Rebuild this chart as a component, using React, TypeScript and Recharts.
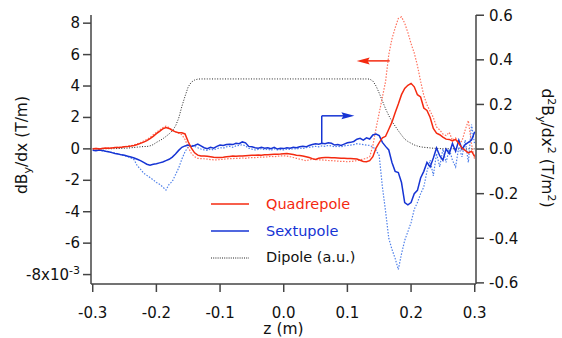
import { LineChart, Line, XAxis, YAxis, Legend, ReferenceLine, ReferenceDot } from "recharts";

// samples every 0.005 m from z = -0.300 to 0.300 (121 points)
const quad = [
  0.0, 0.02, 0.0, 0.03, 0.05, 0.04, 0.06, 0.08, 0.09, 0.1,
  0.13, 0.15, 0.18, 0.22, 0.28, 0.35, 0.43, 0.52, 0.65, 0.8,
  0.97, 1.12, 1.27, 1.36, 1.3, 1.18, 1.08, 1.03, 1.02, 0.95,
  0.45, 0.05, -0.25, -0.4, -0.45, -0.46, -0.47, -0.5, -0.53, -0.55,
  -0.55, -0.53, -0.5, -0.48, -0.46, -0.47, -0.45, -0.46, -0.44, -0.42,
  -0.4, -0.41, -0.39, -0.4, -0.38, -0.37, -0.36, -0.35, -0.34, -0.33,
  -0.31, -0.3, -0.32, -0.36, -0.4, -0.42, -0.46, -0.5, -0.55, -0.62,
  -0.68, -0.6, -0.56, -0.55, -0.55, -0.56, -0.57, -0.58, -0.6, -0.6,
  -0.61, -0.62, -0.63, -0.65, -0.72, -0.8, -0.82, -0.75, -0.5, 0.05,
  0.4, 0.7, 0.8, 1.25, 1.7, 2.3, 2.85, 3.45, 3.85, 4.05,
  4.17, 3.95, 3.45, 3.3, 2.6, 2.45, 2.0, 1.3, 1.0, 0.9,
  0.75, 0.62, 0.6, 0.5, 0.6, 0.35, 0.05, -0.1, -0.25, -0.15, -0.5,
];

const quadSim = [
  0.0, 0.03, 0.0, 0.04, 0.02, 0.06, 0.05, 0.09, 0.1, 0.12,
  0.15, 0.17, 0.2, 0.25, 0.32, 0.4, 0.5, 0.6, 0.72, 0.9,
  1.05, 1.2, 1.35, 1.45, 1.35, 1.2, 1.1, 1.0, 0.9, 0.6,
  0.1, -0.3, -0.5, -0.6, -0.62, -0.63, -0.65, -0.68, -0.7, -0.7,
  -0.68, -0.66, -0.64, -0.62, -0.62, -0.6, -0.6, -0.58, -0.6, -0.57,
  -0.55, -0.56, -0.54, -0.52, -0.53, -0.5, -0.48, -0.5, -0.47, -0.45,
  -0.44, -0.46, -0.5, -0.55, -0.6, -0.65, -0.7, -0.75, -0.7, -0.66,
  -0.68, -0.7, -0.7, -0.72, -0.74, -0.75, -0.76, -0.78, -0.8, -0.8,
  -0.82, -0.8, -0.78, -0.75, -0.7, -0.65, -0.6, -0.5, 0.2, 1.3,
  2.3, 3.3, 4.3, 6.0, 7.0, 7.7, 8.3, 8.4, 8.0, 7.4,
  6.7, 6.1, 5.3, 4.3, 3.4, 2.8, 2.4, 2.0, 1.4, 1.2,
  0.95, 0.85, 1.05, 0.55, 0.7, 0.35, 0.5, 1.2, 1.8, 0.3, -0.7,
];

const sext = [
  -0.005, -0.008, -0.004, -0.006, -0.01, -0.012, -0.016, -0.02, -0.022, -0.026,
  -0.028, -0.032, -0.036, -0.04, -0.046, -0.052, -0.06, -0.068, -0.072, -0.068,
  -0.066, -0.062, -0.058, -0.052, -0.046, -0.036, -0.022, -0.006, 0.008, 0.014,
  0.018, 0.012, 0.016, 0.022, 0.014, 0.006, 0.002, 0.008, 0.004, 0.012,
  0.018, 0.016, 0.02, 0.022, 0.02, 0.026, 0.024, 0.032, 0.028, 0.012,
  0.01, 0.006, 0.004, 0.008, 0.004, 0.006, 0.002, 0.008, 0.0, 0.004,
  0.002, 0.006, 0.004, 0.008, 0.006, 0.01, 0.012, 0.01, 0.016, 0.02,
  0.024, 0.022, 0.026, 0.024, 0.028, 0.026, 0.018, 0.02, 0.016, 0.022,
  0.028, 0.03, 0.034, 0.044, 0.048, 0.04, 0.05, 0.045, 0.063, 0.067,
  0.06, 0.03, 0.012, -0.004, -0.06, -0.1, -0.105, -0.15, -0.24, -0.25,
  -0.24, -0.2, -0.185, -0.13, -0.1, -0.06, -0.08, -0.04, 0.005, -0.03,
  -0.05, 0.0, -0.02, 0.025, -0.01, 0.04, 0.0, 0.02, 0.03, 0.04, 0.078,
];

const sextSim = [
  -0.004, -0.006, -0.004, -0.008, -0.01, -0.012, -0.015, -0.018, -0.022, -0.026,
  -0.03, -0.034, -0.04, -0.048, -0.075, -0.09, -0.108, -0.118, -0.128, -0.138,
  -0.15, -0.158, -0.17, -0.184, -0.158, -0.145, -0.115, -0.085, -0.045, -0.012,
  0.01, 0.018, 0.012, 0.006, 0.0, -0.004, -0.006, 0.0, -0.004, 0.002,
  0.006, 0.004, 0.01, 0.012, 0.008, 0.014, 0.016, 0.02, 0.014, 0.004,
  0.0, -0.004, -0.002, 0.002, -0.004, 0.0, -0.006, 0.002, -0.004, -0.002,
  -0.004, 0.0, -0.002, 0.002, 0.0, 0.004, 0.002, 0.006, 0.008, 0.01,
  0.012, 0.01, 0.014, 0.012, 0.016, 0.014, 0.01, 0.012, 0.01, 0.014,
  0.016, 0.018, 0.02, 0.024, 0.022, 0.02, 0.018, 0.016, 0.01, -0.005,
  -0.03, -0.17, -0.28, -0.4, -0.45, -0.49, -0.54, -0.47, -0.41, -0.37,
  -0.33, -0.27, -0.24, -0.2, -0.17, -0.1, -0.05, -0.12, -0.02, -0.08,
  0.0, -0.06, 0.0, -0.05, -0.08, 0.01, -0.035, 0.04, -0.06, 0.11, 0.02,
];

const dipole = [
  0.0, 0.0, 0.0, 0.0, 0.01, 0.01, 0.01, 0.02, 0.02, 0.03,
  0.04, 0.05, 0.07, 0.09, 0.11, 0.13, 0.15, 0.15, 0.19, 0.27,
  0.41, 0.52, 0.64, 0.79, 0.95, 1.15, 1.45, 1.95, 2.7, 3.35,
  3.95, 4.25, 4.38, 4.44, 4.45, 4.45, 4.45, 4.45, 4.45, 4.45,
  4.45, 4.45, 4.45, 4.45, 4.45, 4.45, 4.45, 4.45, 4.45, 4.45,
  4.45, 4.45, 4.45, 4.45, 4.45, 4.45, 4.45, 4.45, 4.45, 4.45,
  4.45, 4.45, 4.45, 4.45, 4.45, 4.45, 4.45, 4.45, 4.45, 4.45,
  4.45, 4.45, 4.45, 4.45, 4.45, 4.45, 4.45, 4.45, 4.45, 4.45,
  4.45, 4.45, 4.45, 4.45, 4.45, 4.45, 4.45, 4.44, 4.32, 4.0,
  3.55, 3.05, 2.55, 2.12, 1.75, 1.45, 1.15, 0.88, 0.62, 0.47,
  0.36, 0.25, 0.18, 0.13, 0.1, 0.08, 0.06, 0.04, 0.03, 0.02,
  0.01, 0.01, 0.01, 0.01, 0.0, 0.0, 0.0, 0.0, 0.0, 0.0, 0.0,
];

const X_TICKS = [-0.3, -0.2, -0.1, 0, 0.1, 0.2, 0.3];
const LEFT_TICKS = [-8, -6, -4, -2, 0, 2, 4, 6, 8];
const RIGHT_TICKS = [-0.6, -0.4, -0.2, 0, 0.2, 0.4, 0.6];

// axis pointer arrows: red -> left axis, blue -> right axis
const RED_ARROW = { from: 0.1664, to: 0.1146, y: 5.6 };
const BLUE_ARROW = { x: 0.0597, y0: 0.027, y1: 0.149, to: 0.111 };

const RED = "#f42a10";
const RED_LIGHT = "#ff725e";
const BLUE = "#1634d4";
const BLUE_LIGHT = "#4f80ea";
const AXIS = "#444";

const data = quad.map((q, i) => ({
  z: Number((-0.3 + i * 0.005).toFixed(3)),
  quad: q,
  quadSim: quadSim[i],
  sext: sext[i],
  sextSim: sextSim[i],
  dipole: dipole[i],
}));

const LEGEND_ORDER = ["quad", "sext", "dipole"];

function LegendBox({ payload }: any) {
  const items = (payload || [])
    .filter((e: any) => LEGEND_ORDER.includes(e.dataKey))
    .sort((a: any, b: any) => LEGEND_ORDER.indexOf(a.dataKey) - LEGEND_ORDER.indexOf(b.dataKey));
  return (
    <div>
      {items.map((e: any) => {
        const isDipole = e.dataKey === "dipole";
        return (
          <div key={e.dataKey} style={{ display: "flex", alignItems: "center", height: 26.7 }}>
            <svg width={38} height={4} style={{ display: "block" }}>
              <line
                x1={0}
                y1={2}
                x2={38}
                y2={2}
                stroke={isDipole ? "#222" : e.color}
                strokeWidth={isDipole ? 1 : 1.5}
                strokeDasharray={isDipole ? "1 1.2" : undefined}
              />
            </svg>
            <span style={{ marginLeft: 17, fontSize: 14.5, color: isDipole ? "#111" : e.color, lineHeight: 1 }}>
              {e.value}
            </span>
          </div>
        );
      })}
    </div>
  );
}

function LeftTick({ x, y, payload }: any) {
  const v = payload.value;
  return (
    <text x={x} y={y} dy={5} textAnchor="end" fill="#111" fontSize={15}>
      {v === -8 ? (
        <>
          <tspan>-8x10</tspan>
          <tspan dy={-6} fontSize={11}>-3</tspan>
        </>
      ) : (
        String(v)
      )}
    </text>
  );
}

const arrowLeft = (p: any) => (
  <polygon
    points={`${p.cx},${p.cy} ${p.cx + 13},${p.cy - 3.5} ${p.cx + 11},${p.cy} ${p.cx + 13},${p.cy + 3.5}`}
    fill={RED}
  />
);

const arrowRight = (p: any) => (
  <polygon
    points={`${p.cx},${p.cy} ${p.cx - 13},${p.cy - 3.5} ${p.cx - 11},${p.cy} ${p.cx - 13},${p.cy + 3.5}`}
    fill={BLUE}
  />
);

export default function App() {
  return (
    <div style={{ position: "absolute", left: 0, top: 0, fontFamily: "'DejaVu Sans', sans-serif", background: "#fff" }}>
      <LineChart width={562} height={338} data={data} margin={{ top: 15, right: 0, bottom: 0, left: 0 }}>
        <XAxis
          dataKey="z"
          type="number"
          domain={[-0.3027, 0.302]}
          allowDataOverflow
          ticks={X_TICKS}
          tickFormatter={(v: number) => v.toFixed(1)}
          height={54}
          tickSize={8}
          tickMargin={15}
          axisLine={{ stroke: AXIS, strokeWidth: 1.5 }}
          tickLine={{ stroke: AXIS, strokeWidth: 1.5 }}
          tick={{ fill: "#111", fontSize: 15 }}
          label={() => (
            <text x={283.5} y={334} textAnchor="middle" fill="#111" fontSize={15.5}>
              z (m)
            </text>
          )}
        />
        <YAxis
          yAxisId="left"
          domain={[-8.6, 8.52]}
          allowDataOverflow
          ticks={LEFT_TICKS}
          width={91}
          tickSize={8}
          tickMargin={3}
          axisLine={{ stroke: AXIS, strokeWidth: 1.5 }}
          tickLine={{ stroke: AXIS, strokeWidth: 1.5 }}
          tick={<LeftTick />}
          label={() => (
            <text x={27} y={145} transform="rotate(-90 27 145)" textAnchor="middle" fill="#111" fontSize={15.5}>
              dB<tspan dy={4} fontSize={11}>y</tspan>
              <tspan dy={-4}>/dx (T/m)</tspan>
            </text>
          )}
        />
        <YAxis
          yAxisId="right"
          orientation="right"
          domain={[-0.605, 0.601]}
          allowDataOverflow
          ticks={RIGHT_TICKS}
          tickFormatter={(v: number) => v.toFixed(1)}
          width={86}
          tickSize={8}
          tickMargin={5}
          axisLine={{ stroke: AXIS, strokeWidth: 1.5 }}
          tickLine={{ stroke: AXIS, strokeWidth: 1.5 }}
          tick={{ fill: "#111", fontSize: 15 }}
          label={() => (
            <text x={542} y={148} transform="rotate(90 542 148)" textAnchor="middle" fill="#111" fontSize={15.5}>
              d<tspan dy={-6} fontSize={11}>2</tspan>
              <tspan dy={6}>B</tspan>
              <tspan dy={4} fontSize={11}>y</tspan>
              <tspan dy={-4}>/dx</tspan>
              <tspan dy={-6} fontSize={11}>2</tspan>
              <tspan dy={6}> (T/m</tspan>
              <tspan dy={-6} fontSize={11}>2</tspan>
              <tspan dy={6}>)</tspan>
            </text>
          )}
        />

        <Legend
          layout="vertical"
          align="center"
          verticalAlign="middle"
          content={<LegendBox />}
          wrapperStyle={{ position: "absolute", left: 211, top: 191, width: 170 }}
        />

        <Line yAxisId="left" dataKey="dipole" name="Dipole (a.u.)" stroke="#222" strokeWidth={1} strokeDasharray="1 1.6" dot={false} isAnimationActive={false} />
        <Line yAxisId="right" dataKey="sextSim" stroke={BLUE_LIGHT} strokeWidth={1.2} strokeDasharray="1.5 1.5" dot={false} legendType="none" isAnimationActive={false} />
        <Line yAxisId="left" dataKey="quadSim" stroke={RED_LIGHT} strokeWidth={1.2} strokeDasharray="1.5 1.5" dot={false} legendType="none" isAnimationActive={false} />
        <Line yAxisId="right" dataKey="sext" name="Sextupole" stroke={BLUE} strokeWidth={1.5} dot={false} isAnimationActive={false} />
        <Line yAxisId="left" dataKey="quad" name="Quadrepole" stroke={RED} strokeWidth={1.5} dot={false} isAnimationActive={false} />

        <ReferenceLine
          yAxisId="left"
          segment={[{ x: RED_ARROW.from, y: RED_ARROW.y }, { x: RED_ARROW.to + 0.015, y: RED_ARROW.y }]}
          stroke={RED}
          strokeWidth={1.5}
        />
        <ReferenceDot yAxisId="left" x={RED_ARROW.to} y={RED_ARROW.y} shape={arrowLeft} />
        <ReferenceLine
          yAxisId="right"
          segment={[{ x: BLUE_ARROW.x, y: BLUE_ARROW.y0 }, { x: BLUE_ARROW.x, y: BLUE_ARROW.y1 }]}
          stroke={BLUE}
          strokeWidth={1.5}
        />
        <ReferenceLine
          yAxisId="right"
          segment={[{ x: BLUE_ARROW.x, y: BLUE_ARROW.y1 }, { x: BLUE_ARROW.to - 0.015, y: BLUE_ARROW.y1 }]}
          stroke={BLUE}
          strokeWidth={1.5}
        />
        <ReferenceDot yAxisId="right" x={BLUE_ARROW.to} y={BLUE_ARROW.y1} shape={arrowRight} />
      </LineChart>
    </div>
  );
}
